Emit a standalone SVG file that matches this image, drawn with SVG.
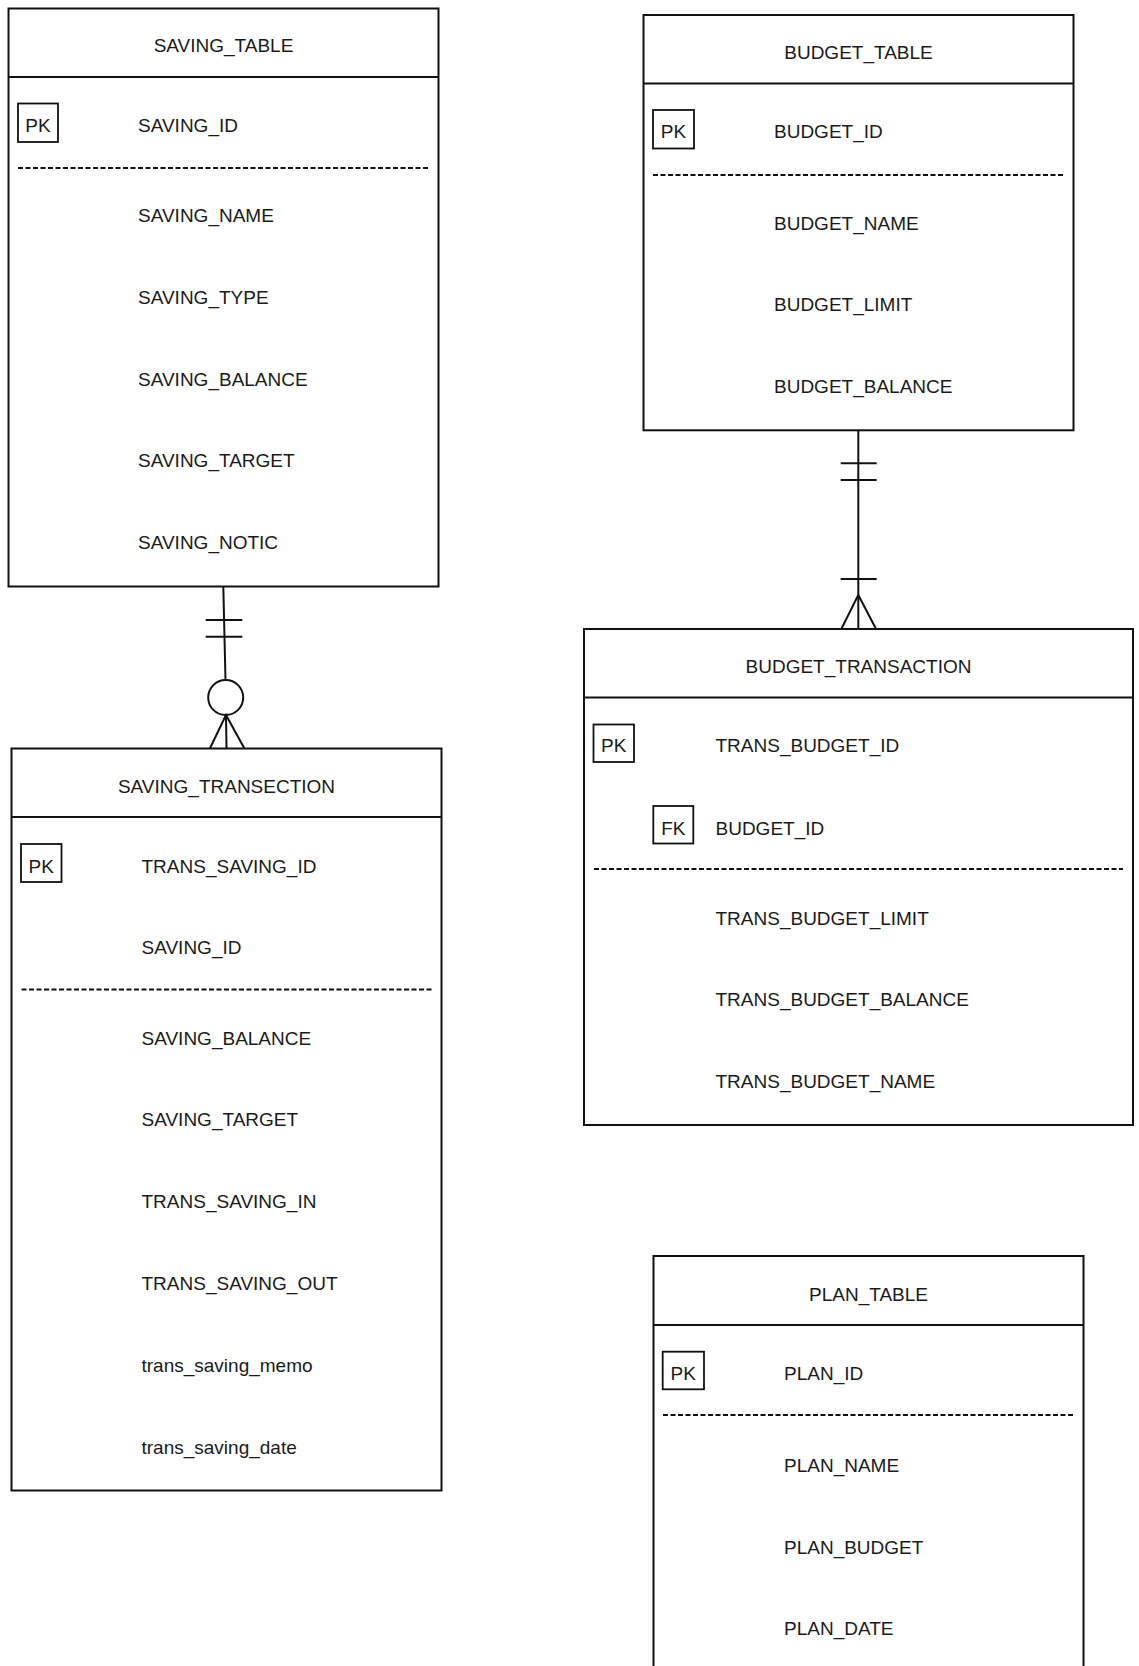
<svg xmlns="http://www.w3.org/2000/svg" width="1139" height="1666" viewBox="0 0 1139 1666">
<style>
.box{fill:#fff;stroke:#111;stroke-width:2}
.hl{stroke:#111;stroke-width:2}
.dash{stroke:#111;stroke-width:1.8;stroke-dasharray:5 2.5}
.key{fill:#fff;stroke:#111;stroke-width:1.8}
text{font-family:"Liberation Sans",Arial,sans-serif;font-size:19px;fill:#1a1a1a}
.t{text-anchor:middle}
.c{text-anchor:middle}
.conn{fill:none;stroke:#111;stroke-width:2}
</style>
<rect width="1139" height="1666" fill="#fff"/>

<g id="saving_table">
<rect class="box" x="8.5" y="8.5" width="430" height="578"/>
<line class="hl" x1="8.5" y1="77" x2="438.5" y2="77"/>
<text class="t" x="223.5" y="52">SAVING_TABLE</text>
<rect class="key" x="18" y="103.5" width="40" height="38.5"/>
<text class="c" x="38" y="132">PK</text>
<text x="138" y="132">SAVING_ID</text>
<line class="dash" x1="18" y1="168" x2="428" y2="168"/>
<text x="138" y="222">SAVING_NAME</text>
<text x="138" y="303.8">SAVING_TYPE</text>
<text x="138" y="385.6">SAVING_BALANCE</text>
<text x="138" y="467.4">SAVING_TARGET</text>
<text x="138" y="549.2">SAVING_NOTIC</text>
</g>

<g id="saving_transection">
<rect class="box" x="11.5" y="748.5" width="430" height="742"/>
<line class="hl" x1="11.5" y1="817" x2="441.5" y2="817"/>
<text class="t" x="226.5" y="793">SAVING_TRANSECTION</text>
<rect class="key" x="21" y="844" width="40.5" height="38"/>
<text class="c" x="41.3" y="873">PK</text>
<text x="141.5" y="873">TRANS_SAVING_ID</text>
<text x="141.5" y="954">SAVING_ID</text>
<line class="dash" x1="21.5" y1="989.5" x2="431.5" y2="989.5"/>
<text x="141.5" y="1044.5">SAVING_BALANCE</text>
<text x="141.5" y="1126.3">SAVING_TARGET</text>
<text x="141.5" y="1208.1">TRANS_SAVING_IN</text>
<text x="141.5" y="1289.9">TRANS_SAVING_OUT</text>
<text x="141.5" y="1372.3">trans_saving_memo</text>
<text x="141.5" y="1454.1">trans_saving_date</text>
</g>

<g id="budget_table">
<rect class="box" x="643.5" y="15" width="430" height="415.3"/>
<line class="hl" x1="643.5" y1="83.5" x2="1073.5" y2="83.5"/>
<text class="t" x="858.5" y="59">BUDGET_TABLE</text>
<rect class="key" x="653" y="110" width="41" height="38.5"/>
<text class="c" x="673.5" y="138">PK</text>
<text x="774" y="138">BUDGET_ID</text>
<line class="dash" x1="653" y1="175" x2="1064" y2="175"/>
<text x="774" y="229.5">BUDGET_NAME</text>
<text x="774" y="311.3">BUDGET_LIMIT</text>
<text x="774" y="393.1">BUDGET_BALANCE</text>
</g>

<g id="budget_transaction">
<rect class="box" x="584" y="629" width="549" height="496"/>
<line class="hl" x1="584" y1="697.5" x2="1133" y2="697.5"/>
<text class="t" x="858.5" y="672.5">BUDGET_TRANSACTION</text>
<rect class="key" x="593.5" y="724.5" width="40.5" height="37.5"/>
<text class="c" x="613.7" y="752.2">PK</text>
<text x="715.5" y="752.2">TRANS_BUDGET_ID</text>
<rect class="key" x="653.3" y="806" width="40" height="37.5"/>
<text class="c" x="673.3" y="834.5">FK</text>
<text x="715.5" y="834.5">BUDGET_ID</text>
<line class="dash" x1="594" y1="869" x2="1123" y2="869"/>
<text x="715.5" y="924.5">TRANS_BUDGET_LIMIT</text>
<text x="715.5" y="1006.3">TRANS_BUDGET_BALANCE</text>
<text x="715.5" y="1088.1">TRANS_BUDGET_NAME</text>
</g>

<g id="plan_table">
<rect class="box" x="653.5" y="1256" width="430" height="416"/>
<line class="hl" x1="653.5" y1="1325" x2="1083.5" y2="1325"/>
<text class="t" x="868.5" y="1301">PLAN_TABLE</text>
<rect class="key" x="662.7" y="1351.7" width="41.3" height="37.6"/>
<text class="c" x="683.3" y="1379.5">PK</text>
<text x="784" y="1379.5">PLAN_ID</text>
<line class="dash" x1="663" y1="1415" x2="1073" y2="1415"/>
<text x="784" y="1471.7">PLAN_NAME</text>
<text x="784" y="1553.5">PLAN_BUDGET</text>
<text x="784" y="1635.3">PLAN_DATE</text>
</g>

<g id="connectors">
<g id="saving_rel">
<line class="conn" x1="223.3" y1="586.5" x2="225.5" y2="680"/>
<line class="conn" x1="205.7" y1="620" x2="242.3" y2="620"/>
<line class="conn" x1="205.7" y1="636.7" x2="242.3" y2="636.7"/>
<circle class="conn" cx="225.7" cy="697.5" r="17.5"/>
<path class="conn" d="M210 748.3 L226 715 L244.3 748.3 M226 715 L226.5 748.3"/>
</g>
<g id="budget_rel">
<line class="conn" x1="858.3" y1="430.3" x2="858.3" y2="628.3"/>
<line class="conn" x1="840.7" y1="463.3" x2="876.7" y2="463.3"/>
<line class="conn" x1="840.7" y1="480" x2="876.7" y2="480"/>
<line class="conn" x1="840.7" y1="579" x2="876.7" y2="579"/>
<path class="conn" d="M841.7 628.3 L858.3 595 L875.7 628.3"/>
</g>
</g>
</svg>
